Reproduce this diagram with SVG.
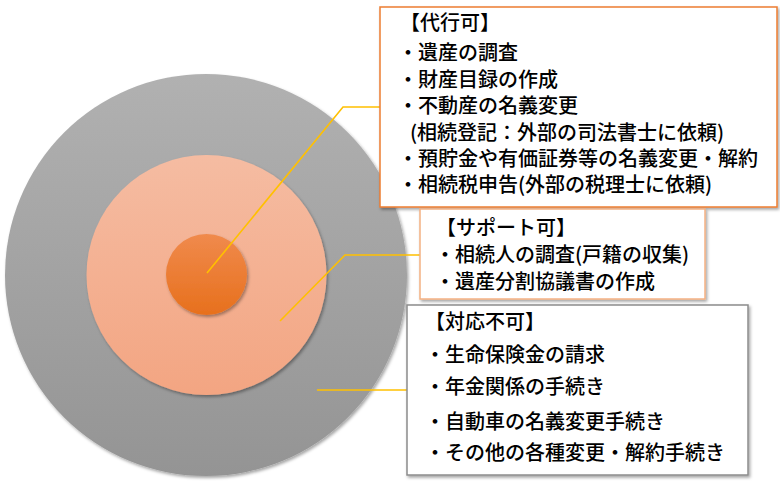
<svg xmlns="http://www.w3.org/2000/svg" width="780" height="490" viewBox="0 0 780 490">
<defs>
<linearGradient id="gGray" x1="0" y1="0" x2="0" y2="1"><stop offset="0" stop-color="#b1b1b1"/><stop offset="1" stop-color="#949494"/></linearGradient>
<linearGradient id="gMid" x1="0" y1="0" x2="0" y2="1"><stop offset="0" stop-color="#f5bca2"/><stop offset="1" stop-color="#f3a582"/></linearGradient>
<linearGradient id="gIn" x1="0" y1="0" x2="0" y2="1"><stop offset="0" stop-color="#f08a4c"/><stop offset="1" stop-color="#e7701d"/></linearGradient>
<filter id="sh" x="-10%" y="-10%" width="130%" height="130%"><feDropShadow dx="1.5" dy="2" stdDeviation="1.5" flood-color="#000" flood-opacity="0.35"/></filter>
</defs>
<style>
text{font-family:"Noto Sans CJK JP","Noto Sans",sans-serif;font-size:20px;font-weight:500;fill:#000;}
.conn{fill:none;stroke:#ffc000;stroke-width:1.6;}
.box{fill:#fff;stroke-width:1.5;filter:url(#sh);}
</style>
<rect width="780" height="490" fill="#fff"/>
<g id="circle-outer"><circle cx="206" cy="275" r="201" fill="url(#gGray)" filter="url(#sh)"/></g>
<g id="circle-middle"><circle cx="206.5" cy="275" r="120" fill="url(#gMid)" filter="url(#sh)"/></g>
<g id="circle-inner"><circle cx="206.5" cy="274.5" r="40.5" fill="url(#gIn)" filter="url(#sh)"/></g>
<g id="connectors">
<polyline class="conn" points="207,273 343,107 380,107"/>
<polyline class="conn" points="280,321 345,255 420,255"/>
<polyline class="conn" points="317,390 407,390"/>
</g>
<g id="box-daiko">
<rect class="box" x="380" y="7" width="397" height="200" stroke="#ed7d31"/>
<text x="400" y="30">【代行可】</text>
<text x="398" y="60">・遺産の調査</text>
<text x="398" y="87">・財産目録の作成</text>
<text x="398" y="113">・不動産の名義変更</text>
<text x="410" y="140">(相続登記：外部の司法書士に依頼)</text>
<text x="398" y="166">・預貯金や有価証券等の名義変更・解約</text>
<text x="398" y="192">・相続税申告(外部の税理士に依頼)</text>
</g>
<g id="box-support">
<rect class="box" x="420" y="209" width="285" height="90" stroke="#f4b183"/>
<text x="436" y="235">【サポート可】</text>
<text x="435" y="262">・相続人の調査(戸籍の収集)</text>
<text x="435" y="289">・遺産分割協議書の作成</text>
</g>
<g id="box-taiou">
<rect class="box" x="407" y="305" width="341" height="170" stroke="#8c8c8c"/>
<text x="425" y="329">【対応不可】</text>
<text x="425" y="362">・生命保険金の請求</text>
<text x="425" y="394">・年金関係の手続き</text>
<text x="425" y="429">・自動車の名義変更手続き</text>
<text x="425" y="460">・その他の各種変更・解約手続き</text>
</g>
</svg>
